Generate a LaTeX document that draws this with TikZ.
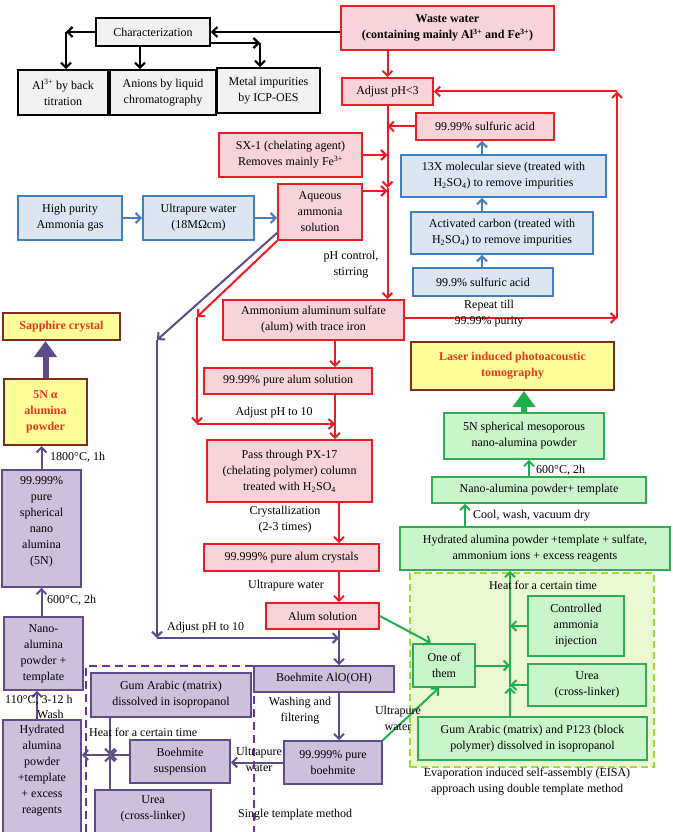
\documentclass[tikz,border=0pt]{standalone}
\usepackage{fontspec}
\setmainfont{Liberation Serif}
\usetikzlibrary{arrows.meta}
\definecolor{kfill}{HTML}{F2F2F2}
\definecolor{rfill}{HTML}{F9D3DA}
\definecolor{rline}{HTML}{ED1C24}
\definecolor{bfill}{HTML}{DCE6F2}
\definecolor{bline}{HTML}{3F7FC4}
\definecolor{barrow}{HTML}{4A7EBB}
\definecolor{pfill}{HTML}{CCC0DA}
\definecolor{pline}{HTML}{5F4B8B}
\definecolor{parrow}{HTML}{5F4B8B}
\definecolor{pdashc}{HTML}{7030A0}
\definecolor{gfill}{HTML}{C8F5CA}
\definecolor{gline}{HTML}{33AA55}
\definecolor{garrow}{HTML}{1FAF50}
\definecolor{gregfill}{HTML}{EAF9D2}
\definecolor{glime}{HTML}{99E033}
\definecolor{yfill}{HTML}{FFFF99}
\definecolor{yline}{HTML}{7B2C1F}
\definecolor{ytext}{HTML}{E8351F}
\newcommand\bxat[6]{%
 \pgfmathsetmacro\bxw{#4-#2}\pgfmathsetmacro\bxh{#5-#3}%
 \pgfmathsetmacro\bxx{(#2+#4)/2}\pgfmathsetmacro\bxy{(#3+#5)/2}%
 \node[#1, minimum width=\bxw pt, minimum height=\bxh pt] (#6) at (\bxx,\bxy)}
\tikzset{
  bx/.style={draw, inner sep=0pt, align=center, line width=1.6pt},
  kbox/.style={bx, fill=kfill, draw=black, line width=1.7pt},
  rbox/.style={bx, fill=rfill, draw=rline},
  bbox/.style={bx, fill=bfill, draw=bline},
  pbox/.style={bx, fill=pfill, draw=pline},
  gbox/.style={bx, fill=gfill, draw=gline},
  ybox/.style={bx, fill=yfill, draw=yline, line width=2pt, text=ytext, font=\fontsize{12}{16}\selectfont\bfseries},
  greg/.style={draw=glime, fill=gregfill, dash pattern=on 7pt off 4pt, line width=2.5pt, inner sep=0pt},
  pdash/.style={draw=pdashc, dash pattern=on 8pt off 5pt, line width=2.5pt},
  lbl/.style={inner sep=0pt, align=center},
  myhead/.style={-{Straight Barb[length=5pt,width=10pt]}},
  karr/.style={draw=black, line width=2.2pt, myhead},
  rarr/.style={draw=rline, line width=2pt, myhead},
  barr/.style={draw=barrow, line width=2.2pt, myhead},
  parr/.style={draw=parrow, line width=2pt, myhead},
  garr/.style={draw=garrow, line width=2pt, myhead},
  fatp/.style={draw=parrow, line width=6pt, -{Triangle[length=16pt,width=22pt]}},
  fatg/.style={draw=garrow, line width=6pt, -{Triangle[length=16pt,width=22pt]}},
}
\begin{document}
\begin{tikzpicture}[x=1pt,y=-1pt,font=\fontsize{12}{16}\selectfont]
\fill[white] (0,0) rectangle (672,832);
\useasboundingbox (0,0) rectangle (672,832);

% regions
\draw[pdash] (86,845) -- (86,666) -- (254,666) -- (254,845);
\bxat{greg}{410}{573}{654}{767}{greg} {};

% characterization
\bxat{kbox}{96}{18}{210}{46}{char} {Characterization};
\bxat{kbox}{18}{70}{108}{115}{c1} {Al\textsuperscript{3+} by back\\titration};
\bxat{kbox}{110}{70}{216}{115}{c2} {Anions by liquid\\chromatography};
\bxat{kbox}{217}{68}{320}{113}{c3} {Metal impurities\\by ICP-OES};

% red boxes
\bxat{rbox, font=\fontsize{12}{16}\selectfont\bfseries}{341}{6}{554}{50}{ww} {Waste water\\(containing mainly Al\textsuperscript{3+} and Fe\textsuperscript{3+})};
\bxat{rbox}{342}{78}{433}{105}{aph} {Adjust pH<3};
\bxat{rbox}{416}{113}{554}{140}{sa99} {99.99\% sulfuric acid};
\bxat{rbox}{219}{133}{362}{177}{sx} {SX-1 (chelating agent)\\Removes mainly Fe\textsuperscript{3+}};
\bxat{rbox}{278}{184}{362}{240}{aq} {Aqueous\\ammonia\\solution};
\bxat{rbox}{223}{300}{404}{340}{alum} {Ammonium aluminum sulfate\\(alum) with trace iron};
\bxat{rbox}{204}{368}{372}{394}{pas} {99.99\% pure alum solution};
\bxat{rbox}{207}{440}{372}{502}{px} {Pass through PX-17\\(chelating polymer) column\\treated with H\textsubscript{2}SO\textsubscript{4}};
\bxat{rbox}{204}{544}{379}{571}{cry} {99.999\% pure alum crystals};
\bxat{rbox}{266}{603}{379}{629}{als} {Alum solution};

% blue boxes
\bxat{bbox}{18}{196}{122}{240}{bgas} {High purity\\Ammonia gas};
\bxat{bbox}{143}{196}{254}{240}{buw} {Ultrapure water\\(18MΩcm)};
\bxat{bbox}{401}{155}{606}{197}{b13x} {13X molecular sieve (treated with\\H\textsubscript{2}SO\textsubscript{4}) to remove impurities};
\bxat{bbox}{411}{212}{593}{254}{bac} {Activated carbon (treated with\\H\textsubscript{2}SO\textsubscript{4}) to remove impurities};
\bxat{bbox}{413}{268}{553}{296}{b999} {99.9\% sulfuric acid};

% yellow boxes
\bxat{ybox}{3}{313}{120}{340}{ysap} {Sapphire crystal};
\bxat{ybox}{4}{379}{87}{445}{y5n} {5N α\\alumina\\powder};
\bxat{ybox}{411}{342}{614}{390}{ylas} {Laser induced photoacoustic\\tomography};

% purple boxes
\bxat{pbox}{2}{470}{81}{587}{p5n} {};
\node[lbl] (p5nt) at (41.5,522) {99.999\%\\pure\\spherical\\nano\\alumina\\(5N)};
\bxat{pbox}{4}{617}{83}{690}{pnano} {Nano-\\alumina\\powder +\\template};
\bxat{pbox}{3}{720}{81}{845}{phyd} {};
\node[lbl] (phydt) at (42,771) {Hydrated\\alumina\\powder\\+template\\+ excess\\reagents};
\bxat{pbox}{91}{673}{251}{717}{pgum} {Gum Arabic (matrix)\\dissolved in isopropanol};
\bxat{pbox}{130}{740}{230}{783}{psus} {Boehmite\\suspension};
\bxat{pbox}{95}{790}{211}{845}{purea} {};
\node[lbl] (pureat) at (153,809) {Urea\\(cross-linker)};
\bxat{pbox}{254}{666}{394}{692}{pbx} {Boehmite AlO(OH)};
\bxat{pbox}{284}{741}{382}{784}{pb99} {99.999\% pure\\boehmite};

% green boxes
\bxat{gbox}{444}{413}{604}{459}{gn5n} {5N spherical mesoporous\\nano-alumina powder};
\bxat{gbox}{432}{477}{646}{503}{gnat} {Nano-alumina powder+ template};
\bxat{gbox}{400}{527}{670}{570}{ghyd} {Hydrated alumina powder +template + sulfate,\\ammonium ions + excess reagents};
\bxat{gbox}{528}{596}{624}{656}{gcai} {Controlled\\ammonia\\injection};
\bxat{gbox}{528}{664}{646}{706}{gurea} {Urea\\(cross-linker)};
\bxat{gbox}{413}{644}{475}{687}{gone} {One of\\them};
\bxat{gbox}{418}{717}{647}{760}{ggum} {Gum Arabic (matrix) and P123 (block\\polymer) dissolved in isopropanol};

% coordinates
\coordinate (k1) at (66,32);
\coordinate (k3) at (260,43);
\coordinate (rp) at (617,318);
\coordinate (rt) at (617,91.5);
\coordinate (rd1) at (197,317);
\coordinate (rd2) at (197,424);
\coordinate (rd3) at (335,424);
\coordinate (cx) at (339,0);
\coordinate (bx) at (482,0);
\coordinate (pd1) at (157,340);
\coordinate (pd2) at (157,638);
\coordinate (pd3) at (339,638);
\coordinate (jn) at (110,755);
\coordinate (gx) at (510,0);
\coordinate (gx1) at (529,0);
\coordinate (gx2) at (465,0);
\coordinate (gmid) at (510,687);
\coordinate (rmid) at (387.5,188);

% black arrows
\draw[karr] (ww.west |- char.east) -- (char.east);
\draw[karr] (char.west) -- (k1);
\draw[karr] (k1) -- (k1 |- c1.north);
\draw[karr] ([xshift=-13pt]char.south) -- ([xshift=-13pt]char.south |- c2.north);
\draw[karr] (char.east |- k3) -- (k3);
\draw[karr] (k3) -- (k3 |- c3.north);

% red arrows
\draw[rarr] (aph.north |- ww.south) -- (aph.north);
\draw[rarr] (aph.south) -- (rmid);
\draw[rarr] (rmid) -- (rmid |- alum.north);
\draw[rarr] (sa99.west) -- (sa99.west -| aph.south);
\draw[rarr] (sx.east) -- (sx.east -| aph.south);
\draw[rarr] (aq.east |- 0,191) -- (aph.south |- 0,191);
\draw[rarr] (alum.east |- rp) -- (rp);
\draw[rarr] (rp) -- (rt);
\draw[rarr] (rt) -- (aph.east);
\draw[rarr] (aq.south west) -- (rd1);
\draw[rarr] (rd1) -- (rd2);
\draw[rarr] (rd2) -- (rd3);
\draw[rarr] (alum.south -| rd3) -- (pas.north -| rd3);
\draw[rarr] (pas.south -| rd3) -- (px.north -| rd3);
\draw[rarr] (px.south -| cx) -- (cry.north -| cx);
\draw[rarr] (cry.south -| cx) -- (als.north -| cx);

% blue arrows
\draw[barr] (bgas.east) -- (buw.west);
\draw[barr] (buw.east) -- (aq.west |- buw.east);
\draw[barr] (b999.north -| bx) -- (bac.south -| bx);
\draw[barr] (bac.north -| bx) -- (b13x.south -| bx);
\draw[barr] (b13x.north -| bx) -- (sa99.south -| bx);

% purple arrows
\draw[parr] ([yshift=8pt]aq.south west) -- (pd1);
\draw[parr] (pd1) -- (pd2);
\draw[parr] (pd2) -- (pd3);
\draw[parr] (als.south -| cx) -- (pbx.north -| cx);
\draw[parr] (pbx.south -| cx) -- (pb99.north -| cx);
\draw[parr] (pb99.west) -- (psus.east |- pb99.west);
\draw[parr] (pgum.south -| jn) -- (jn);
\draw[parr] (purea.north -| jn) -- (jn);
\draw[parr] (psus.west |- jn) -- (jn);
\draw[parr] (jn) -- (jn -| phyd.east);
\draw[parr] ([xshift=-5pt]phyd.north) -- ([xshift=-5pt]phyd.north |- pnano.south);
\draw[parr] (pnano.north -| p5n.north) -- (p5n.south);
\draw[parr] (p5n.north) -- (p5n.north |- y5n.south);
\draw[fatp] (y5n.north) -- (y5n.north |- ysap.south);

% green arrows
\draw[garr] (als.east) -- ([xshift=-13pt]gone.north);
\draw[garr] (pb99.north east) -- ([xshift=-5pt]gone.south);
\draw[garr] (ggum.north -| gx) -- (gmid);
\draw[garr] (gmid) -- (ghyd.south -| gx);
\draw[garr] (gcai.west) -- (gcai.west -| gx);
\draw[garr] (gurea.west) -- (gurea.west -| gx);
\draw[garr] (gone.east) -- (gone.east -| gx);
\draw[garr] (ghyd.north -| gx2) -- (gnat.south -| gx2);
\draw[garr] (gnat.north -| gx1) -- (gn5n.south -| gx1);
\draw[fatg] (gn5n.north) -- (gn5n.north |- ylas.south);

% labels
\node[lbl] (l1) at (351,265) {pH control,\\stirring};
\node[lbl] (l2) at (489,314) {Repeat till\\99.99\% purity};
\node[lbl] (l3) at (274,413) {Adjust pH to 10};
\node[lbl] (l4) at (285,520) {Crystallization\\(2-3 times)};
\node[lbl] (l5) at (286,586) {Ultrapure water};
\node[lbl, anchor=west] (l6) at (167,628) {Adjust pH to 10};
\node[lbl] (l7) at (300,711) {Washing and\\filtering};
\node[lbl] (l8) at (259,759) {Ultrapure\\water};
\node[lbl, anchor=west] (l9) at (238,815) {Single template method};
\node[lbl, anchor=west] (l10) at (89,732) {Heat for a certain time};
\node[lbl, anchor=west] (l11) at (50,457) {1800°C, 1h};
\node[lbl, anchor=west] (l12) at (47,600) {600°C, 2h};
\node[lbl, anchor=west] (l13) at (5,700) {110°C, 3-12 h};
\node[lbl, anchor=west] (l14) at (37,714) {Wash};
\node[lbl, anchor=west] (l15) at (536,470) {600°C, 2h};
\node[lbl, anchor=west] (l16) at (473,516) {Cool, wash, vacuum dry};
\node[lbl] (l17) at (543,585) {Heat for a certain time};
\node[lbl] (l18) at (398,718) {Ultrapure\\water};
\node[lbl] (l19) at (527,782) {Evaporation induced self-assembly (EISA)\\approach using double template method};
\end{tikzpicture}
\end{document}
